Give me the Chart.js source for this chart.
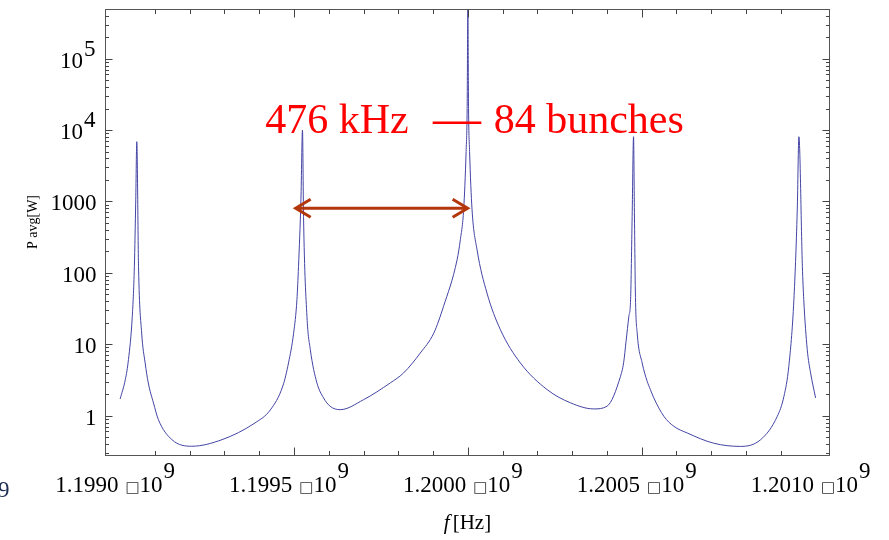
<!DOCTYPE html>
<html><head><meta charset="utf-8">
<script src="https://cdn.jsdelivr.net/npm/chart.js@4.4.1/dist/chart.umd.min.js"></script>
<style>html,body{margin:0;padding:0;background:#fff}</style>
</head><body>
<canvas id="c" width="889" height="540"></canvas>
<script>
// ---- data (frequency in GHz, average power) ----
const freqGHz = [
  1.199000, 1.199015, 1.199024, 1.199035, 1.199041, 1.199045, 1.199048, 1.199053,
  1.199062, 1.199072, 1.199081, 1.199096, 1.199110, 1.199149, 1.199206, 1.199293,
  1.199388, 1.199432, 1.199468, 1.1994843, 1.199499, 1.1995085, 1.199513, 1.199520,
  1.1995245, 1.1995275, 1.1995373, 1.199547, 1.199566, 1.199585, 1.199604, 1.199633,
  1.199700, 1.199777, 1.199815, 1.199863, 1.199902, 1.199930, 1.199969, 1.1999784,
  1.199988, 1.199995, 1.199998, 1.200000, 1.200002, 1.200005, 1.200012, 1.2000265,
  1.200055, 1.2000935, 1.200151, 1.200228, 1.200295, 1.200362, 1.200400, 1.200439,
  1.200448, 1.200455, 1.200463, 1.200468, 1.2004725, 1.2004765, 1.200479, 1.200482,
  1.200487, 1.2005013, 1.2005157, 1.200525, 1.2005347, 1.2005635, 1.200592, 1.200631,
  1.200707, 1.200784, 1.200842, 1.200890, 1.200909, 1.200923, 1.2009376, 1.2009473,
  1.200952, 1.200962, 1.200966, 1.200976, 1.2009856, 1.201000
];
const powerW = [
  1.71, 3.19, 6.07, 24.5, 122, 1050, 6860, 122,
  14.3, 5.46, 2.87, 1.5, 0.88, 0.46, 0.372, 0.46,
  0.79, 1.2, 2.6, 5.46, 14.3, 42, 122, 1050,
  10000, 613, 24.5, 8.4, 2.87, 1.77, 1.35, 1.21,
  1.67, 2.87, 3.95, 7.5, 14.3, 33.8, 152, 290,
  780, 5000, 20000, 480000, 20000, 5000, 780, 210,
  52, 16, 5.46, 2.31, 1.51, 1.24, 1.35, 3.55,
  5.5, 11, 24.5, 42, 613, 8060, 700, 45,
  14.3, 5.46, 3.02, 2.31, 1.77, 0.98, 0.71, 0.57,
  0.41, 0.37, 0.46, 0.98, 1.86, 4.9, 42, 760,
  8060, 122, 42, 8.4, 3.96, 1.77
];

// ---- axes ----
const xRange = [1.198958, 1.20104];
const yRange = [0.276, 488000];
const xTickValues = [1.1990, 1.1995, 1.2000, 1.2005, 1.2010];
const xTickBase = ['1.1990', '1.1995', '1.2000', '1.2005', '1.2010'];
const xTickExp = ['9', '9', '9', '9', '9'];
const yTickValues = [1, 10, 100, 1000, 10000, 100000];
const yTickBase = ['1', '10', '100', '1000', '10', '10'];
const yTickExp = ['', '', '', '', '4', '5'];
const xTitle = ['f', '[Hz]'];
const yTitle = 'P avg[W]';

// ---- annotation (data coordinates) ----
const noteLeft = {text: '476 kHz', x: 1.1994175, y: 8990};
const noteRight = {text: '84 bunches', x: 1.2000742, y: 8990};
const noteDash = {text: '\u2014', x: 1.1999, y: 8990};
const spanArrow = {x1: 1.199502, x2: 1.2000023, y: 804};

const points = freqGHz.map((f, i) => ({x: f, y: powerW[i]}));
const SERIF = '"Liberation Serif", "Times New Roman", serif';

function isGrid(v, step) { const r = v / step; return Math.abs(r - Math.round(r)) < 1e-6; }

const deco = {
  id: 'deco',
  afterDatasetsDraw(chart) {
    const ctx = chart.ctx, xs = chart.scales.x, ys = chart.scales.y;
    ctx.save();
    // arrow
    const ax1 = xs.getPixelForValue(spanArrow.x1), ax2 = xs.getPixelForValue(spanArrow.x2);
    const ay = ys.getPixelForValue(spanArrow.y);
    ctx.strokeStyle = '#b4370c'; ctx.lineWidth = 3; ctx.lineCap = 'butt'; ctx.lineJoin = 'miter';
    ctx.beginPath(); ctx.moveTo(ax1 + 2, ay); ctx.lineTo(ax2 - 2, ay); ctx.stroke();
    ctx.beginPath(); ctx.moveTo(ax1 + 16, ay - 9); ctx.lineTo(ax1 + 1, ay); ctx.lineTo(ax1 + 16, ay + 9); ctx.stroke();
    ctx.beginPath(); ctx.moveTo(ax2 - 16, ay - 9); ctx.lineTo(ax2 - 1, ay); ctx.lineTo(ax2 - 16, ay + 9); ctx.stroke();
    // text
    ctx.fillStyle = 'rgb(255,0,0)';
    ctx.textBaseline = 'alphabetic'; ctx.textAlign = 'left';
    ctx.font = '42px ' + SERIF;
    ctx.fillText(noteLeft.text, xs.getPixelForValue(noteLeft.x), ys.getPixelForValue(noteLeft.y));
    ctx.fillText(noteRight.text, xs.getPixelForValue(noteRight.x), ys.getPixelForValue(noteRight.y));
    ctx.font = '48px ' + SERIF;
    ctx.fillText(noteDash.text, xs.getPixelForValue(noteDash.x), ys.getPixelForValue(noteDash.y) + 1);
    ctx.restore();
  },
  afterDraw(chart) {
    const ctx = chart.ctx, a = chart.chartArea, xs = chart.scales.x, ys = chart.scales.y;
    ctx.save();
    // frame
    ctx.strokeStyle = '#555'; ctx.lineWidth = 1;
    ctx.strokeRect(a.left, a.top, a.right - a.left, a.bottom - a.top);
    // ticks (inward)
    ctx.strokeStyle = '#444';
    ctx.beginPath();
    xs.ticks.forEach(t => {
      const v = t.value;
      if (!isGrid(v, 0.0001)) return;
      const major = isGrid(v, 0.0005);
      const L = major ? 8 : 4.5;
      const px = Math.round(xs.getPixelForValue(v)) + 0.5;
      ctx.moveTo(px, a.bottom); ctx.lineTo(px, a.bottom - L);
      ctx.moveTo(px, a.top); ctx.lineTo(px, a.top + L);
    });
    ys.ticks.forEach(t => {
      const v = t.value;
      const e = Math.floor(Math.log10(v) + 1e-9);
      const m = v / Math.pow(10, e);
      if (Math.abs(m - Math.round(m)) > 1e-6) return;
      const major = Math.round(m) === 1;
      const L = major ? 7 : 3.5;
      const py = Math.round(ys.getPixelForValue(v)) + 0.5;
      ctx.moveTo(a.left, py); ctx.lineTo(a.left + L, py);
      ctx.moveTo(a.right, py); ctx.lineTo(a.right - L, py);
    });
    ctx.stroke();

    // tick labels
    ctx.fillStyle = '#000';
    ctx.textBaseline = 'alphabetic';
    const lab = '23px ' + SERIF;
    ctx.font = lab;
    // y
    yTickValues.forEach((v, i) => {
      const py = ys.getPixelForValue(v);
      const right = a.left - 10;
      ctx.font = lab;
      ctx.textAlign = 'right';
      if (yTickExp[i]) {
        const ew = ctx.measureText(yTickExp[i]).width;
        ctx.fillText(yTickExp[i], right, py + 9 - 12);
        ctx.fillText(yTickBase[i], right - ew - 1, py + 9);
      } else {
        ctx.fillText(yTickBase[i], right + 1, py + 9);
      }
    });
    // x
    xTickValues.forEach((v, i) => {
      const px = xs.getPixelForValue(v);
      const base = xTickBase[i];
      ctx.font = lab;
      const bw = ctx.measureText(base).width;
      const tw = ctx.measureText('10').width;
      const ew = ctx.measureText(xTickExp[i]).width;
      ctx.font = '15px "DejaVu Sans"';
      const sw = ctx.measureText('\u25A1').width;
      const gap = 7;
      const W = bw + gap + sw + tw + 1 + ew;
      let x0 = px - 5 - W / 2;
      const by = a.bottom + 36;
      ctx.textAlign = 'left';
      ctx.font = lab; ctx.fillText(base, x0, by);
      x0 += bw + gap;
      ctx.font = '15px "DejaVu Sans"'; ctx.fillStyle = '#333'; ctx.fillText('\u25A1', x0, by);
      ctx.fillStyle = '#000';
      x0 += sw;
      ctx.font = lab; ctx.fillText('10', x0, by);
      x0 += tw + 1;
      ctx.fillText(xTickExp[i], x0, by - 14);
    });
    // stray clipped superscript at far left
    ctx.font = lab; ctx.textAlign = 'left'; ctx.fillStyle = '#1c2c50';
    ctx.fillText('9', -2, a.bottom + 41);

    // axis titles
    ctx.fillStyle = '#000';
    ctx.font = 'italic 21px ' + SERIF;
    ctx.textAlign = 'left';
    const cx = (a.left + a.right) / 2;
    const fw = ctx.measureText(xTitle[0]).width;
    ctx.font = '21px ' + SERIF;
    const hw = ctx.measureText(xTitle[1]).width;
    const tx = cx - (fw + 3 + hw) / 2;
    ctx.font = 'italic 21px ' + SERIF; ctx.fillText(xTitle[0], tx, 529);
    ctx.font = '21px ' + SERIF; ctx.fillText(xTitle[1], tx + fw + 3, 529);

    ctx.save();
    ctx.translate(33, 222); ctx.rotate(-Math.PI / 2);
    ctx.font = '14px ' + SERIF; ctx.textAlign = 'center'; ctx.textBaseline = 'middle';
    ctx.fillText(yTitle, 0, 0);
    ctx.restore();
    ctx.restore();
  }
};

new Chart(document.getElementById('c'), {
  type: 'scatter',
  data: {datasets: [{
    data: points, showLine: true, pointRadius: 0, borderWidth: 1,
    borderColor: 'rgb(68,68,165)', cubicInterpolationMode: 'monotone', fill: false
  }]},
  options: {
    responsive: false, animation: false, devicePixelRatio: 1,
    layout: {padding: {top: 9.5, right: 59.5, left: 0, bottom: 0}},
    plugins: {legend: {display: false}, tooltip: {enabled: false}},
    scales: {
      x: {type: 'linear', min: xRange[0], max: xRange[1],
          ticks: {display: false, stepSize: 0.0001},
          grid: {display: false}, border: {display: false},
          afterFit(s) { s.height = 84.5; }},
      y: {type: 'logarithmic', min: yRange[0], max: yRange[1],
          ticks: {display: false},
          grid: {display: false}, border: {display: false},
          afterFit(s) { s.width = 105.5; }}
    }
  },
  plugins: [deco]
});
</script>
</body></html>
